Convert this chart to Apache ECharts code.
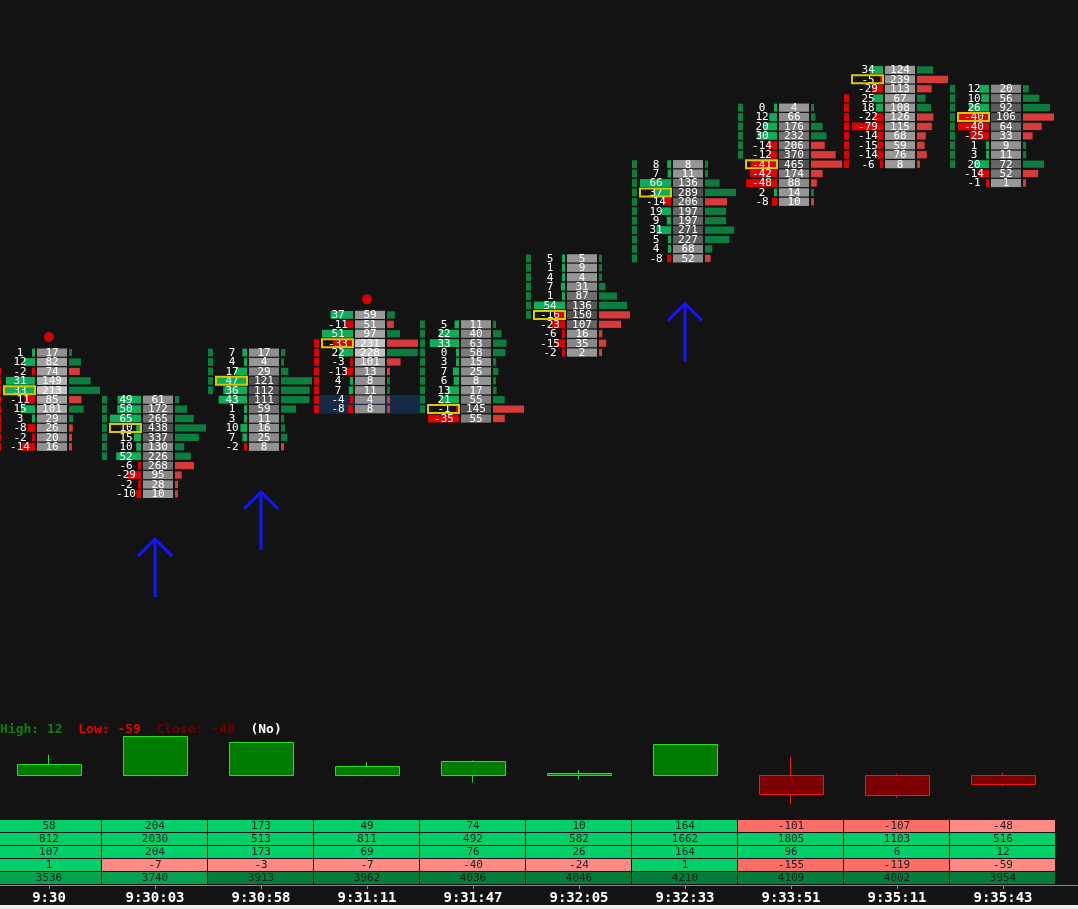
<!DOCTYPE html>
<html><head><meta charset="utf-8">
<script src="https://cdn.jsdelivr.net/npm/echarts@6/dist/echarts.min.js"></script>
<style>html,body{margin:0;padding:0;background:#131313;}#c{width:1078px;height:909px;}</style>
</head><body><div id="c"></div>
<script>
// ---------- DATA ----------
const times = ['9:30','9:30:03','9:30:58','9:31:11','9:31:47','9:32:05','9:32:33','9:33:51','9:35:11','9:35:43'];
// price level (row index) of the top row of each footprint bar
const topLevel = [15,10,15,19,18,25,35,41,45,43];
// per-price-row delta (top row first)
const rowDeltas = [
  [1,12,-2,31,33,-11,15,3,-8,-2,-14],
  [49,50,65,10,15,10,52,-6,-29,-2,-10],
  [7,4,17,47,36,43,1,3,10,7,-2],
  [37,-11,51,-33,22,-3,-13,4,7,-4,-8],
  [5,22,33,0,3,7,6,13,21,-1,-35],
  [5,1,4,7,1,54,-16,-23,-6,-15,-2],
  [8,7,66,37,-14,19,9,31,5,4,-8],
  [0,12,20,30,-14,-12,-41,-42,-48,2,-8],
  [34,-5,-29,25,18,-22,-79,-14,-15,-14,-6],
  [12,10,26,-40,-40,-25,1,3,20,-14,-1]
];
// per-price-row volume (top row first)
const rowVolumes = [
  [17,82,74,149,213,85,101,29,26,20,16],
  [61,172,265,438,337,130,226,268,95,28,10],
  [17,4,29,121,112,111,59,11,16,25,8],
  [59,51,97,231,228,101,13,8,11,4,8],
  [11,40,63,58,15,25,8,17,55,145,55],
  [5,9,4,31,87,136,150,107,16,35,2],
  [8,11,136,289,206,197,197,271,227,68,52],
  [4,66,176,232,206,370,465,174,88,14,10],
  [124,239,113,67,108,126,115,68,59,76,8],
  [20,56,92,106,64,33,9,11,72,52,1]
];
// price open / close levels (thin body strip at left of each bar)
const priceOpen  = [13,4,11,16,9,19,25,36,42,35];
const priceClose = [5,10,15,9,18,25,35,41,35,43];
// bar totals (summary table + delta candles)
const barDelta    = [58,204,173,49,74,10,164,-101,-107,-48];
const barVolume   = [812,2030,513,811,492,582,1662,1805,1103,516];
const barMaxDelta = [107,204,173,69,76,26,164,96,6,12];
const barMinDelta = [1,-7,-3,-7,-40,-24,1,-155,-119,-59];
const cumDelta    = [3536,3740,3913,3962,4036,4046,4210,4109,4002,3954];
// annotations
const dotBars = [0,3];
const arrowBars = [1,2,6];
const zoneBars = [[3,9,10]]; // [bar, low level, high level]
// style: gray-box shading mode per bar
const shadeMode = ['light','dark','dark','light','dark','dark','dark','dark','flat','dark'];

// ---------- DERIVED ----------
const maxAbsD = rowDeltas.map(a => Math.max(...a.map(Math.abs)));
const maxVol = rowVolumes.map(a => Math.max(...a));
const pocRow = rowVolumes.map(a => a.indexOf(Math.max(...a)));
const cells = [];
rowDeltas.forEach((arr, i) => arr.forEach((d, r) => cells.push([i, topLevel[i] - r, d, rowVolumes[i][r], r])));
const strip = [];
priceOpen.forEach((o, i) => {
  const c = priceClose[i], lo = Math.min(o, c), hi = Math.max(o, c);
  for (let l = lo; l <= hi; l++) strip.push([i, l, c >= o ? 1 : -1]);
});
const candles = barDelta.map((c, i) => [i, 0, c, barMinDelta[i], barMaxDelta[i]]);
const tableRows = [barDelta, barVolume, barMaxDelta, barMinDelta, cumDelta];
const tableCells = [];
tableRows.forEach((row, r) => row.forEach((v, i) => tableCells.push([i, r, v])));

const MONO = '"DejaVu Sans Mono", "Liberation Mono", monospace';
const XMIN = -49 / 106, XMAX = 1029 / 106;

function grayFor(i, v) {
  const t = v / maxVol[i];
  let g;
  if (shadeMode[i] === 'light') g = 140 + 55 * t;
  else if (shadeMode[i] === 'dark') g = 152 - 72 * t;
  else g = 152;
  g = Math.round(g);
  return 'rgb(' + g + ',' + g + ',' + g + ')';
}

const chart = echarts.init(document.getElementById('c'), null, {renderer: 'canvas'});

function xAxisFor(gi, show) {
  return {
    type: 'value', gridIndex: gi, min: XMIN, max: XMAX, show: show,
    splitLine: {show: false},
    axisLine: {show: show, onZero: false, lineStyle: {color: '#8a8a8a', width: 1}},
    axisTick: {show: show, length: 4, lineStyle: {color: '#8a8a8a'}, customValues: times.map((t, i) => i)},
    axisLabel: {show: show, color: '#ffffff', fontSize: 14, fontWeight: 'bold', fontFamily: MONO, margin: 6,
      customValues: times.map((t, i) => i),
      formatter: v => times[Math.round(v)] || ''}
  };
}

const option = {
  backgroundColor: '#131313',
  animation: false,
  textStyle: {fontFamily: MONO},
  grid: [
    {left: 0, right: 0, top: 4, height: 716},
    {left: 0, right: 0, top: 737, height: 76},
    {left: 0, right: 0, top: 820, height: 65}
  ],
  xAxis: [xAxisFor(0, false), xAxisFor(1, false), xAxisFor(2, true)],
  yAxis: [
    {type: 'value', gridIndex: 0, min: -24, max: 52, show: false},
    {type: 'value', gridIndex: 1, min: -200, max: 200, show: false},
    {type: 'value', gridIndex: 2, min: 0, max: 5, inverse: true, show: false}
  ],
  graphic: [
    {type: 'text', left: 0, top: 723, z: 10, style: {
      text: '{h|High: 12}  {l|Low: -59}  {c|Close: -48}  {n|(No)}',
      font: 'bold 13px ' + MONO,
      rich: {
        h: {fill: '#0c800c', font: 'bold 13px ' + MONO},
        l: {fill: '#e80000', font: 'bold 13px ' + MONO},
        c: {fill: '#720000', font: 'bold 13px ' + MONO},
        n: {fill: '#ffffff', font: 'bold 13px ' + MONO}
      }}},
    {type: 'rect', left: 0, top: 905, z: 10, shape: {width: 1078, height: 4}, style: {fill: '#eeeeee'}}
  ],
  series: [
    // highlight zone
    {type: 'custom', xAxisIndex: 0, yAxisIndex: 0, z: 1, data: zoneBars,
      renderItem: (p, api) => {
        const i = api.value(0), lo = api.value(1), hi = api.value(2);
        const a = api.coord([i, hi + 0.5]), b = api.coord([i, lo - 0.5]);
        return {type: 'rect', shape: {x: a[0] - 49, y: a[1], width: 102, height: b[1] - a[1]}, style: {fill: '#142b47'}};
      }},
    // price body strip
    {type: 'custom', xAxisIndex: 0, yAxisIndex: 0, z: 2, data: strip,
      renderItem: (p, api) => {
        const i = api.value(0), l = api.value(1), s = api.value(2);
        const c = api.coord([i, l]); const rh = api.size([0, 1])[1];
        return {type: 'rect', shape: {x: c[0] - 53, y: c[1] - rh / 2 + 0.8, width: 5, height: rh - 1.6},
          style: {fill: s > 0 ? '#0b7d3e' : '#e00000'}};
      }},
    // footprint cells
    {type: 'custom', xAxisIndex: 0, yAxisIndex: 0, z: 3, data: cells,
      renderItem: (p, api) => {
        const i = api.value(0), lv = api.value(1), d = api.value(2), v = api.value(3), r = api.value(4);
        const c = api.coord([i, lv]); const cx = c[0], cy = c[1];
        const rh = api.size([0, 1])[1];
        const ch = [];
        const dl = Math.max(3, Math.abs(d) / maxAbsD[i] * 31);
        ch.push({type: 'rect', shape: {x: cx - 14 - dl, y: cy - rh / 2 + 0.8, width: dl, height: rh - 1.6},
          style: {fill: d >= 0 ? '#10ad58' : '#e00000'}});
        ch.push({type: 'rect', shape: {x: cx - 12, y: cy - rh / 2 + 0.6, width: 30, height: rh - 1.2},
          style: {fill: grayFor(i, v)}});
        const vl = Math.max(3, v / maxVol[i] * 31);
        ch.push({type: 'rect', shape: {x: cx + 20, y: cy - rh / 2 + 1.1, width: vl, height: rh - 2.2},
          style: {fill: d >= 0 ? '#0b7d3e' : '#d63b37'}});
        ch.push({type: 'text', x: cx - 29, y: cy + 0.5, style: {text: String(d), fill: '#ffffff',
          fontSize: 11, fontFamily: MONO, align: 'center', verticalAlign: 'middle'}});
        ch.push({type: 'text', x: cx + 3, y: cy + 0.5, style: {text: String(v), fill: '#ffffff',
          fontSize: 11, fontFamily: MONO, align: 'center', verticalAlign: 'middle'}});
        if (r === pocRow[i]) {
          ch.push({type: 'rect', shape: {x: cx - 45, y: cy - 4, width: 31, height: 8},
            style: {fill: 'none', stroke: '#d8c800', lineWidth: 2}});
        }
        return {type: 'group', children: ch};
      }},
    // red dots
    {type: 'scatter', xAxisIndex: 0, yAxisIndex: 0, z: 4, symbolSize: 10,
      itemStyle: {color: '#ff0000'},
      data: dotBars.map(i => [i, topLevel[i] + 1.65])},
    // arrows
    {type: 'custom', xAxisIndex: 0, yAxisIndex: 0, z: 4,
      data: arrowBars.map(i => [i, topLevel[i] - 10]),
      renderItem: (p, api) => {
        const i = api.value(0), b = api.value(1);
        const tip = api.coord([i, b - 4.8]), tail = api.coord([i, b - 10.95]);
        const st = {stroke: '#1414ff', lineWidth: 3, fill: 'none'};
        return {type: 'group', children: [
          {type: 'line', shape: {x1: tip[0], y1: tip[1], x2: tail[0], y2: tail[1]}, style: st},
          {type: 'polyline', shape: {points: [[tip[0] - 17, tip[1] + 17], [tip[0], tip[1]], [tip[0] + 17, tip[1] + 17]]}, style: st}
        ]};
      }},
    // delta candles
    {type: 'custom', xAxisIndex: 1, yAxisIndex: 1, z: 3, data: candles,
      renderItem: (p, api) => {
        const i = api.value(0), o = api.value(1), c = api.value(2), lo = api.value(3), hi = api.value(4);
        const pO = api.coord([i, o]), pC = api.coord([i, c]), pL = api.coord([i, lo]), pH = api.coord([i, hi]);
        const up = c >= o;
        const stroke = up ? '#22e022' : '#f01414';
        const top = Math.round(Math.min(pO[1], pC[1])), h = Math.max(1, Math.round(Math.abs(pO[1] - pC[1])));
        const x = Math.round(pO[0]) - 32;
        return {type: 'group', children: [
          {type: 'line', shape: {x1: Math.round(pO[0]) - 0.5, y1: pH[1], x2: Math.round(pO[0]) - 0.5, y2: pL[1]}, style: {stroke: stroke, lineWidth: 1}},
          {type: 'rect', shape: {x: x + 0.5, y: top + 0.5, width: 64, height: h}, style: {fill: up ? '#007c00' : '#7c0000', stroke: stroke, lineWidth: 1}}
        ]};
      }},
    // summary table
    {type: 'custom', xAxisIndex: 2, yAxisIndex: 2, z: 3, data: tableCells,
      renderItem: (p, api) => {
        const i = api.value(0), r = api.value(1), v = api.value(2);
        const a = api.coord([i - 0.5, r]), b = api.coord([i + 0.5, r + 1]);
        let fill;
        if (r === 4) fill = v < 3800 ? '#03a351' : '#037c3c';
        else if (v >= 0) fill = '#00cf6a';
        else fill = Math.abs(v) >= 100 ? '#ff6e66' : '#ff8a85';
        const x0 = Math.max(0, a[0]);
        return {type: 'group', children: [
          {type: 'rect', shape: {x: x0, y: a[1], width: b[0] - x0 - 1, height: b[1] - a[1] - 1}, style: {fill: fill}},
          {type: 'text', x: (a[0] + b[0]) / 2, y: (a[1] + b[1]) / 2, style: {text: String(v), fill: '#1c1c1c',
            fontSize: 11, fontFamily: MONO, align: 'center', verticalAlign: 'middle'}}
        ]};
      }}
  ]
};
chart.setOption(option);
</script></body></html>
